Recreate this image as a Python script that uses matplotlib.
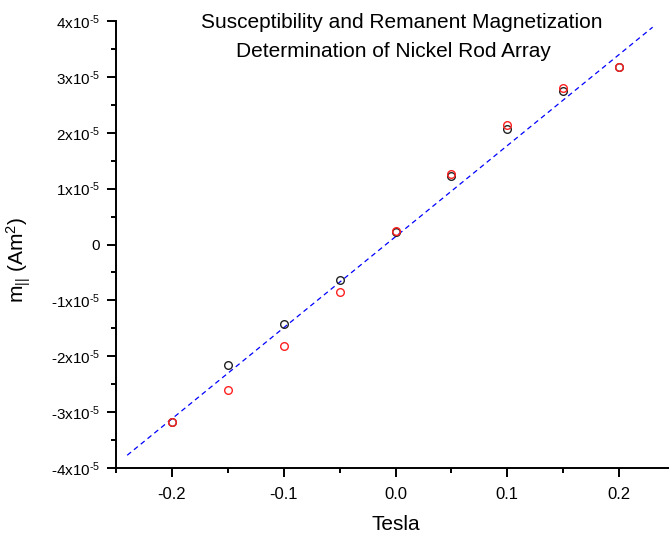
import numpy as np
import matplotlib
matplotlib.use("Agg")
import matplotlib.pyplot as plt
from matplotlib.ticker import FixedLocator, MultipleLocator, FuncFormatter

plt.rcParams['font.family'] = ['Liberation Sans', 'DejaVu Sans']
plt.rcParams['mathtext.fontset'] = 'custom'
plt.rcParams['mathtext.rm'] = 'Liberation Sans'
plt.rcParams['mathtext.it'] = 'Liberation Sans:italic'
plt.rcParams['axes.unicode_minus'] = False

# Data (field in Tesla, moment in units of 1e-5 Am^2)
field = [-0.2, -0.15, -0.1, -0.05, 0.0, 0.05, 0.1, 0.15, 0.2]
m_black = [-3.18, -2.15, -1.42, -0.63, 0.22, 1.22, 2.07, 2.75, 3.17]
m_red = [-3.18, -2.60, -1.81, -0.85, 0.24, 1.27, 2.13, 2.80, 3.18]
fit_slope = 16.3      # 1e-5 Am^2 per T
fit_intercept = 0.14  # 1e-5 Am^2
fit_range = [-0.24, 0.23]
title_lines = ['Susceptibility and Remanent Magnetization',
               'Determination of Nickel Rod Array']

scale = 1e-5

W, H = 669, 540
fig = plt.figure(figsize=(W / 100, H / 100), dpi=100)
left, right, top, bottom = 116, 675, 21, 468
ax = fig.add_axes([left / W, 1 - bottom / H, (right - left) / W, (bottom - top) / H])
ax.set_xlim(-0.25, 0.25)
ax.set_ylim(-4e-5, 4e-5)

fx = np.array(fit_range)
ax.plot(fx, (fit_slope * fx + fit_intercept) * scale, color='#0000ff', lw=0.9,
        dashes=(4, 3), zorder=2)
ax.plot(field, np.array(m_black) * scale, 'o', mfc='none', mec='#222222', ms=5.5, mew=1.0, zorder=3)
ax.plot(field, np.array(m_red) * scale, 'o', mfc='none', mec='#ff2020', ms=5.5, mew=1.0, zorder=4)

for s in ['top', 'right']:
    ax.spines[s].set_visible(False)
for s in ['left', 'bottom']:
    ax.spines[s].set_linewidth(1.4)

ax.xaxis.set_major_locator(FixedLocator([-0.2, -0.1, 0.0, 0.1, 0.2]))
ax.xaxis.set_minor_locator(FixedLocator([-0.25, -0.15, -0.05, 0.05, 0.15]))
ax.xaxis.set_major_formatter(FuncFormatter(lambda v, p: f"{v:.1f}"))
ax.yaxis.set_major_locator(MultipleLocator(1e-5))
ax.yaxis.set_minor_locator(MultipleLocator(0.5e-5))


def yfmt(v, p):
    n = int(round(v / 1e-5))
    if n == 0:
        return '0'
    return '%dx10' % n + r'$^{\text{-5}}$'


ax.yaxis.set_major_formatter(FuncFormatter(yfmt))
ax.tick_params(which='major', direction='out', length=6.5, width=1.4, colors='black')
ax.tick_params(which='minor', direction='out', length=3.8, width=1.4)
ax.tick_params(axis='x', which='major', pad=7.5, labelsize=12)
ax.tick_params(axis='y', which='major', pad=5, labelsize=11)

ax.set_xlabel('Tesla', fontsize=15, labelpad=9)

fig.text(19 / W, 1 - 260 / H, r'm$_{||}$ (Am$^2$)', rotation=90, ha='center', va='center', fontsize=15)

fig.text(402 / W, 1 - 28 / H, title_lines[0], ha='center', va='baseline', fontsize=15)
fig.text(393 / W, 1 - 57 / H, title_lines[1], ha='center', va='baseline', fontsize=15)

fig.savefig('out.png', dpi=100)
